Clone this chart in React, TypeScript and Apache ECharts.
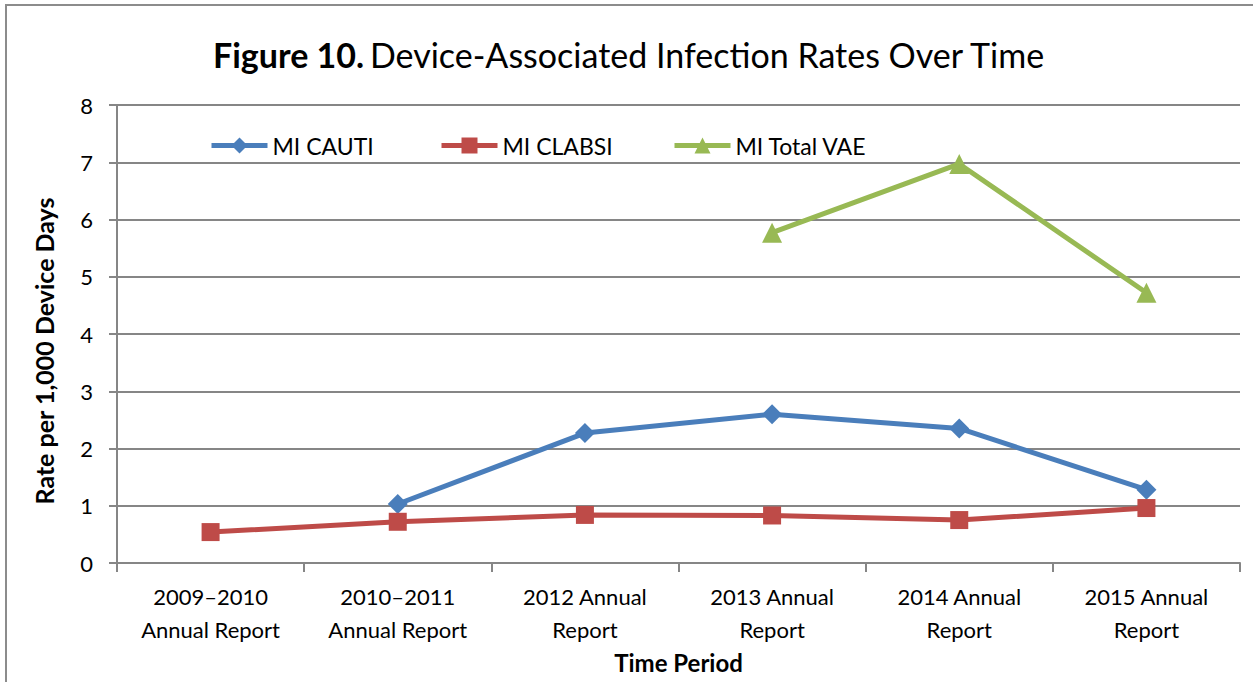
import React, { useEffect, useRef } from "react";
import * as echarts from "echarts";

const categories = [
  "2009–2010\nAnnual Report",
  "2010–2011\nAnnual Report",
  "2012 Annual\nReport",
  "2013 Annual\nReport",
  "2014 Annual\nReport",
  "2015 Annual\nReport",
];
const cauti = [null, 1.03, 2.27, 2.6, 2.35, 1.28];
const clabsi = [0.54, 0.72, 0.84, 0.83, 0.75, 0.96];
const vae = [null, null, null, 5.77, 6.97, 4.72];
const yTicks = { min: 0, max: 8, interval: 1 };

const FONT = "Lato, 'Open Sans', sans-serif";

export default function App() {
  const ref = useRef<HTMLDivElement>(null);
  useEffect(() => {
    const chart = echarts.init(ref.current!, null, { renderer: "svg" });
    const legendBase = {
      top: 129,
      itemWidth: 56,
      itemHeight: 20,
      lineStyle: { width: 5 },
      textStyle: { fontFamily: FONT, fontSize: 23, color: "#000" },
    };
    chart.setOption({
      animation: false,
      backgroundColor: "#fff",
      graphic: [
        {
          type: "rect",
          shape: { x: 6, y: 5, width: 1260, height: 700 },
          style: { fill: "none", stroke: "#8c8c8c", lineWidth: 2 },
          silent: true,
        },
      ],
      title: {
        text: "{b|Figure 10.} {r|Device-Associated Infection Rates Over Time}",
        left: 624,
        textAlign: "center",
        top: 32,
        textStyle: {
          fontWeight: "normal",
          rich: {
            b: { fontFamily: FONT, fontSize: 34, fontWeight: "bold", color: "#000" },
            r: { fontFamily: FONT, fontSize: 34, fontWeight: "normal", color: "#000" },
          },
        },
      },
      legend: [
        { ...legendBase, left: 204, data: ["MI CAUTI"] },
        { ...legendBase, left: 434, data: ["MI CLABSI"] },
        { ...legendBase, left: 667, data: ["MI Total VAE"] },
      ],
      grid: { left: 117, right: 13, top: 105, bottom: 119 },
      xAxis: {
        type: "category",
        data: categories,
        boundaryGap: true,
        name: "Time Period",
        nameLocation: "middle",
        nameGap: 86,
        nameTextStyle: { fontFamily: FONT, fontSize: 24, fontWeight: "bold", color: "#000" },
        axisLine: { lineStyle: { color: "#868686", width: 2 } },
        axisTick: { show: true, length: 9, lineStyle: { color: "#868686", width: 2 } },
        axisLabel: {
          fontFamily: FONT,
          fontSize: 22,
          color: "#000",
          lineHeight: 33,
          margin: 17,
          interval: 0,
        },
      },
      yAxis: {
        type: "value",
        min: yTicks.min,
        max: yTicks.max,
        interval: yTicks.interval,
        name: "Rate per 1,000 Device Days",
        nameLocation: "middle",
        nameGap: 61,
        nameTextStyle: {
          fontFamily: FONT,
          fontSize: 25,
          fontWeight: "bold",
          color: "#000",
          padding: [0, 34, 0, 0],
        },
        axisLine: { show: true, lineStyle: { color: "#868686", width: 2 } },
        axisTick: { show: true, length: 8, lineStyle: { color: "#868686", width: 2 } },
        axisLabel: { fontFamily: FONT, fontSize: 22, color: "#000", margin: 24 },
        splitLine: { lineStyle: { color: "#868686", width: 2 } },
      },
      series: [
        {
          name: "MI CAUTI",
          type: "line",
          data: cauti,
          symbol: "diamond",
          symbolSize: 20,
          color: "#4A7EBB",
          lineStyle: { width: 5, color: "#4A7EBB" },
          itemStyle: { color: "#4A7EBB" },
        },
        {
          name: "MI CLABSI",
          type: "line",
          data: clabsi,
          symbol: "rect",
          symbolSize: 18,
          color: "#BE4B48",
          lineStyle: { width: 5, color: "#BE4B48" },
          itemStyle: { color: "#BE4B48" },
        },
        {
          name: "MI Total VAE",
          type: "line",
          data: vae,
          symbol: "triangle",
          symbolSize: 20,
          color: "#98B954",
          lineStyle: { width: 5, color: "#98B954" },
          itemStyle: { color: "#98B954" },
        },
      ],
    });
    return () => chart.dispose();
  }, []);
  return (
    <div
      ref={ref}
      style={{ position: "absolute", left: 0, top: 0, width: 1253, height: 682 }}
    />
  );
}
